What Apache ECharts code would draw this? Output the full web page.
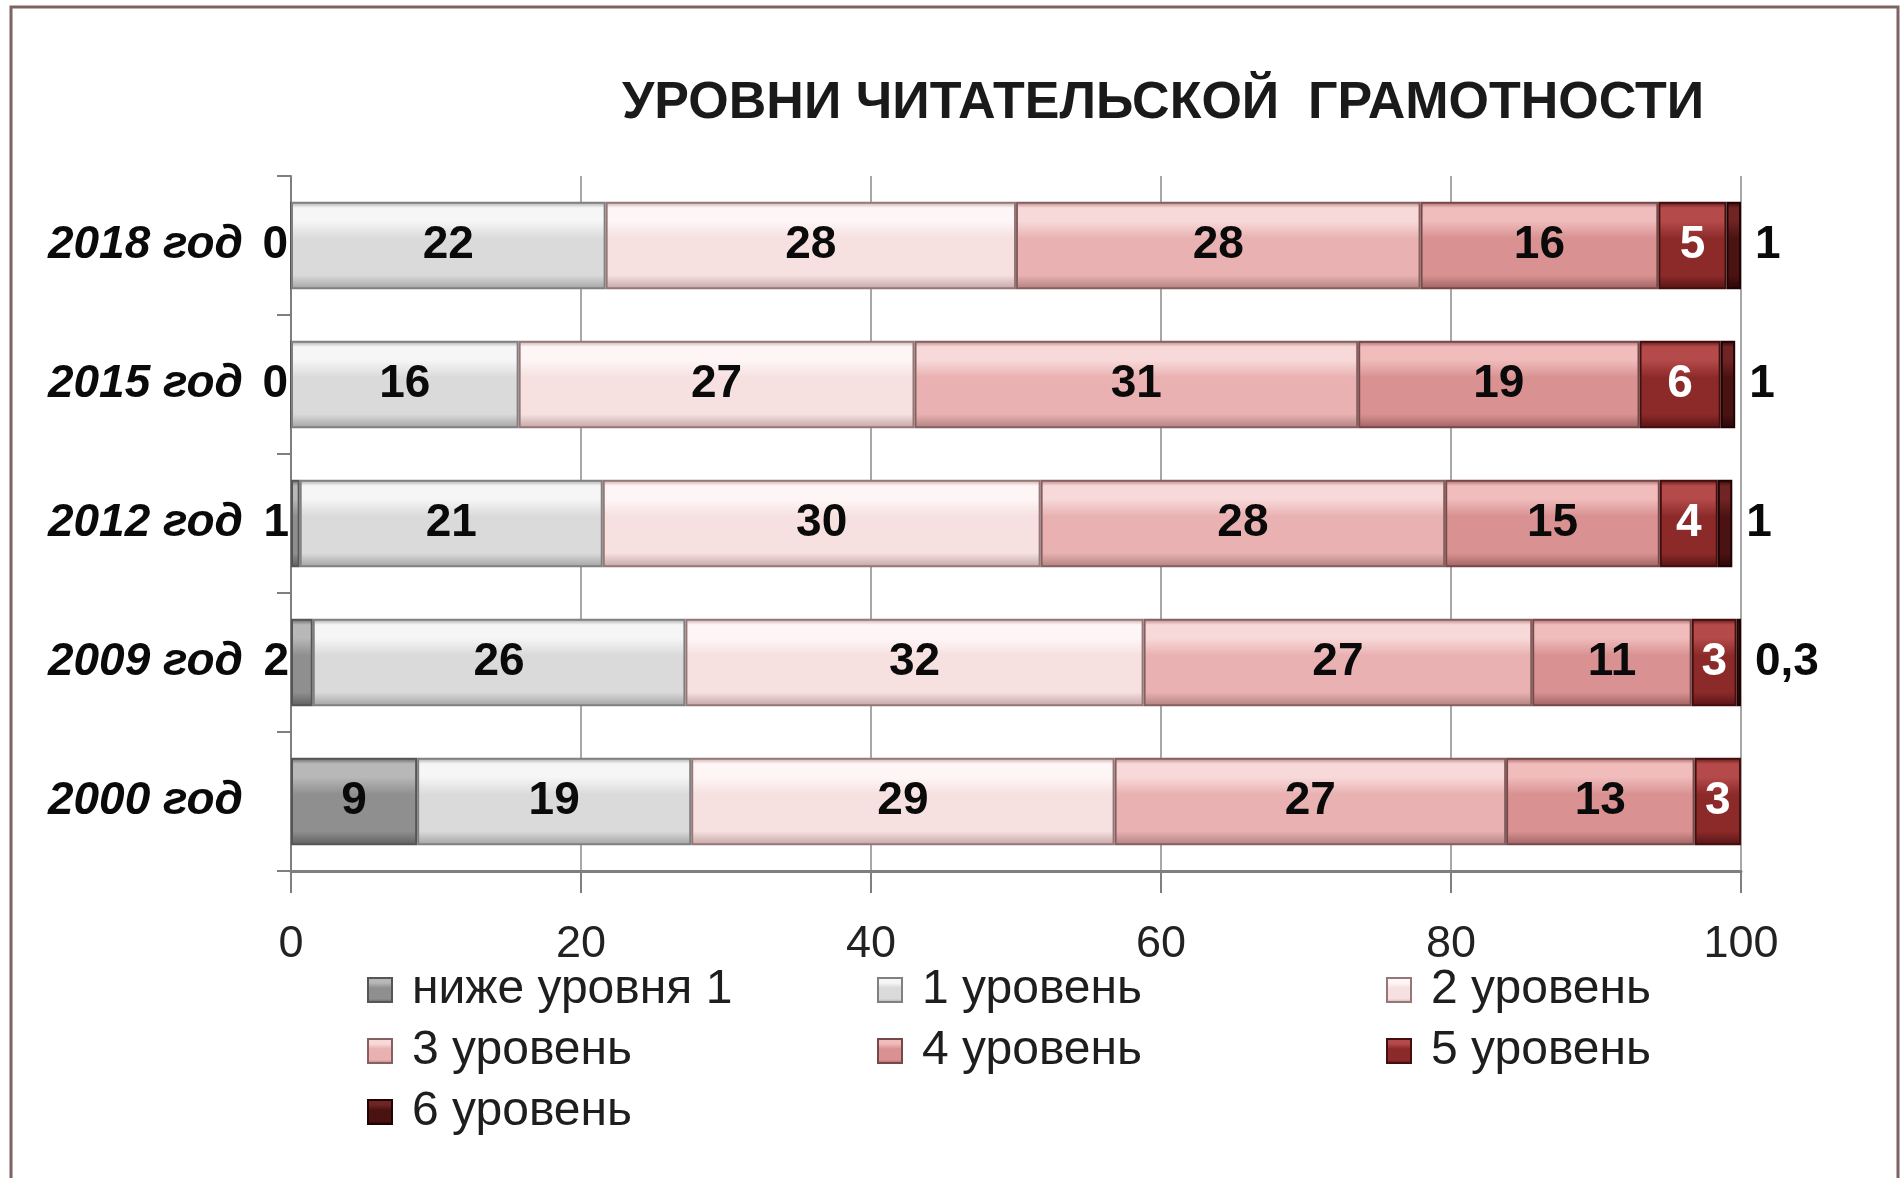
<!DOCTYPE html>
<html>
<head>
<meta charset="utf-8">
<script src="https://cdn.jsdelivr.net/npm/echarts@6/dist/echarts.min.js"></script>
<style>
html,body{margin:0;padding:0;background:#fff;}
#chart{width:1902px;height:1178px;}
</style>
</head>
<body>
<div id="chart"></div>
<script>
// ---- data ----
var categories = ['2018 год', '2015 год', '2012 год', '2009 год', '2000 год'];
var seriesNames = ['ниже уровня 1', '1 уровень', '2 уровень', '3 уровень', '4 уровень', '5 уровень', '6 уровень'];
var belowLevel1 = [0, 0, 0.6, 1.5, 8.7];
var level1 = [21.7, 15.7, 20.9, 25.7, 18.9];
var level2 = [28.3, 27.3, 30.2, 31.6, 29.2];
var level3 = [27.9, 30.6, 27.9, 26.8, 27.0];
var level4 = [16.4, 19.4, 14.8, 11.0, 13.0];
var level5 = [4.7, 5.6, 4.0, 3.1, 3.2];
var level6 = [1.0, 1.0, 1.0, 0.3, null];
var xTicks = [0, 20, 40, 60, 80, 100];

var allValues = [belowLevel1, level1, level2, level3, level4, level5, level6];

// ---- styles ----
var palette = [
  {base:'#8f8f8f', light:'#b8b8b8', dark:'#5e5e5e', border:'#555555'},
  {base:'#dadada', light:'#f6f6f6', dark:'#a2a2a2', border:'#808080'},
  {base:'#f6e0e0', light:'#fef6f6', dark:'#c4a4a4', border:'#957777'},
  {base:'#e9b1b1', light:'#f8d9d9', dark:'#b18080', border:'#866060'},
  {base:'#d99191', light:'#f0bcbc', dark:'#a06262', border:'#774848'},
  {base:'#8c2a2a', light:'#b54a4a', dark:'#561414', border:'#440e0e'},
  {base:'#4b1212', light:'#702424', dark:'#2a0606', border:'#200404'}
];
function grad(c){
  return new echarts.graphic.LinearGradient(0,0,0,1,[
    {offset:0, color:c.dark},
    {offset:0.07, color:c.light},
    {offset:0.22, color:c.light},
    {offset:0.42, color:c.base},
    {offset:0.84, color:c.base},
    {offset:1, color:c.dark}
  ]);
}
var FONT = '"Liberation Sans", Arial, sans-serif';
function fmt(p){
  var v = p.value;
  if (v == null) return '';
  if (v > 0 && v < 0.5) return String(v).replace('.', ',');
  return String(Math.round(v));
}

var series = seriesNames.map(function(name, si){
  var vals = allValues[si];
  var data = vals.map(function(v){
    var item = {value: v};
    if (si === 0 && v != null && v < 3) {
      item.label = {position: 'left', distance: 2};
    }
    return item;
  });
  var label = {
    show: true,
    position: 'inside',
    formatter: fmt,
    fontFamily: FONT,
    fontWeight: 'bold',
    fontSize: 46,
    color: '#0a0a0a'
  };
  if (si === 5) { label.color = '#ffffff'; }
  if (si === 6) { label.position = 'right'; label.distance = 14; }
  return {
    name: name,
    type: 'bar',
    stack: 'total',
    barWidth: '63%',
    data: data,
    label: label,
    itemStyle: {color: grad(palette[si]), borderColor: palette[si].border, borderWidth: 2}
  };
});

var squareIcon = 'path://M0,0 L10,0 L10,10 L0,10 Z';
function legendCol(names, left){
  return {
    data: names,
    orient: 'vertical',
    left: left,
    top: 966,
    icon: squareIcon,
    itemWidth: 54,
    itemHeight: 24,
    itemGap: 13,
    padding: 0,
    selectedMode: false,
    textStyle: {fontFamily: FONT, fontSize: 48, color: '#1e1e1e', lineHeight: 48}
  };
}

var option = {
  backgroundColor: '#ffffff',
  animation: false,
  title: {
    text: 'УРОВНИ ЧИТАТЕЛЬСКОЙ  ГРАМОТНОСТИ',
    left: 622,
    top: 78,
    padding: 0,
    textStyle: {fontFamily: FONT, fontWeight: 'bold', fontSize: 52, color: '#1a1a1a'}
  },
  graphic: [{
    type: 'rect',
    shape: {x: 11, y: 7, width: 1887, height: 1200},
    style: {fill: 'none', stroke: '#7e6363', lineWidth: 3},
    silent: true
  }],
  legend: [
    legendCol([seriesNames[0], seriesNames[3], seriesNames[6]], 367),
    legendCol([seriesNames[1], seriesNames[4]], 877),
    legendCol([seriesNames[2], seriesNames[5]], 1386)
  ],
  grid: {left: 291, right: 161, top: 176, bottom: 307, containLabel: false},
  xAxis: {
    type: 'value',
    min: xTicks[0],
    max: xTicks[xTicks.length - 1],
    interval: xTicks[1] - xTicks[0],
    axisLine: {show: true, lineStyle: {color: '#7f7f7f', width: 3}},
    axisTick: {show: true, length: 22, lineStyle: {color: '#7f7f7f', width: 2}},
    splitLine: {show: true, lineStyle: {color: '#8a8a8a', width: 1.5}},
    axisLabel: {margin: 51, fontFamily: FONT, fontSize: 45, color: '#222'}
  },
  yAxis: {
    type: 'category',
    data: categories,
    inverse: true,
    axisLine: {show: true, lineStyle: {color: '#7f7f7f', width: 2}},
    axisTick: {show: true, length: 14, lineStyle: {color: '#7f7f7f', width: 2}},
    axisLabel: {margin: 48, fontFamily: FONT, fontSize: 46, fontWeight: 'bold', fontStyle: 'italic', color: '#0a0a0a'}
  },
  series: series
};

var chart = echarts.init(document.getElementById('chart'), null, {renderer: 'canvas'});
chart.setOption(option);
</script>
</body>
</html>
